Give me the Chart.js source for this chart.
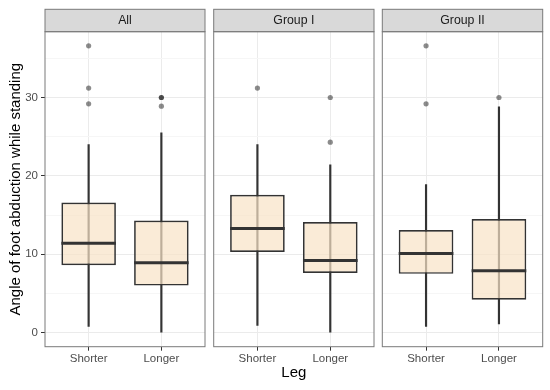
<!DOCTYPE html>
<html>
<head>
<meta charset="utf-8">
<script src="https://cdn.jsdelivr.net/npm/chart.js@4.4.1/dist/chart.umd.min.js"></script>
<style>
  html, body { margin: 0; padding: 0; background: #fff; }
  #wrap { position: relative; width: 550px; height: 390px; }
  .panel { position: absolute; top: 0; height: 390px; }
</style>
</head>
<body>
<div id="wrap">
  <div class="panel" style="left:0;width:210px"><canvas id="c0" width="210" height="390"></canvas></div>
  <div class="panel" style="left:210px;width:170px"><canvas id="c1" width="170" height="390"></canvas></div>
  <div class="panel" style="left:380px;width:170px"><canvas id="c2" width="170" height="390"></canvas></div>
</div>
<script>
// facets and x categories
const panels = ['All', 'Group I', 'Group II'];
const categories = ['Shorter', 'Longer'];

// box stats, one row per panel: [Shorter, Longer]
const whiskerLow = [[0.8, 0.0], [0.9, 0.0], [0.8, 1.1]];
const q1 = [[8.6, 6.0], [10.3, 7.6], [7.5, 4.2]];
const medians = [[11.4, 8.9], [13.3, 9.2], [10.1, 7.9]];
const q3 = [[16.6, 14.3], [17.6, 14.1], [13.1, 14.5]];
const whiskerHigh = [[24.0, 25.5], [24.0, 21.4], [18.9, 28.8]];
const outliers = [
  [[36.6, 31.2, 29.2], [30.0, 30.0, 28.9]],
  [[31.2], [30.0, 24.3]],
  [[36.6, 29.2], [30.0]],
];

// axes
const yTicks = [0, 10, 20, 30];
const yMinor = [5, 15, 25, 35];
const yLimits = [-1.8, 38.4];
const xLimits = [0.4, 2.6];

const INK = '#333333';
const FRAME = '#7a7a7a';
const BOX_FILL = 'rgba(248, 226, 198, 0.7)';
const BOX_WIDTH = 0.75;

Chart.defaults.font.family = '"Liberation Sans", Arial, sans-serif';

// strip on top + panel border, like facet_wrap in theme_bw
const facet = {
  id: 'facet',
  afterDraw(chart, args, opts) {
    const { ctx, chartArea: a } = chart;
    const h = 22.4;
    ctx.save();
    ctx.lineWidth = 1;
    ctx.strokeStyle = FRAME;
    ctx.fillStyle = '#D9D9D9';
    ctx.fillRect(a.left, a.top - h, a.width, h);
    ctx.strokeRect(a.left, a.top - h, a.width, h);
    ctx.strokeRect(a.left, a.top, a.width, a.height);
    ctx.fillStyle = '#1A1A1A';
    ctx.font = '12.3px "Liberation Sans", Arial, sans-serif';
    ctx.textAlign = 'center';
    ctx.textBaseline = 'middle';
    ctx.fillText(opts.title, (a.left + a.right) / 2, a.top - h / 2 + 0.5);
    ctx.restore();
  }
};

// median bars
const medianLines = {
  id: 'medianLines',
  afterDatasetsDraw(chart, args, opts) {
    const { ctx, scales: { x, y } } = chart;
    ctx.save();
    ctx.strokeStyle = INK;
    ctx.lineWidth = 3;
    opts.values.forEach((m, j) => {
      const py = y.getPixelForValue(m);
      ctx.beginPath();
      ctx.moveTo(x.getPixelForValue(j + 1 - BOX_WIDTH / 2), py);
      ctx.lineTo(x.getPixelForValue(j + 1 + BOX_WIDTH / 2), py);
      ctx.stroke();
    });
    ctx.restore();
  }
};

const pads = [
  { left: 0, right: 5 },
  { left: 3.7, right: 6 },
  { left: 2.3, right: 7.3 },
];

function makePanel(i) {
  const first = i === 0;
  const pos = categories.map((c, j) => j + 1);
  return new Chart(document.getElementById('c' + i), {
    type: 'bar',
    data: {
      datasets: [
        {
          type: 'scatter',
          label: 'outliers',
          data: outliers[i].flatMap((vals, j) => vals.map(v => ({ x: j + 1, y: v }))),
          backgroundColor: 'rgba(0,0,0,0.45)',
          borderWidth: 0,
          pointRadius: 2.6,
          order: 0,
        },
        {
          label: 'box',
          data: pos.map((x, j) => ({ x, y: [q1[i][j], q3[i][j]] })),
          backgroundColor: BOX_FILL,
          borderColor: INK,
          borderWidth: 1.7,
          borderSkipped: false,
          barPercentage: BOX_WIDTH,
          categoryPercentage: 1,
          grouped: false,
          order: 1,
        },
        {
          label: 'whisker',
          data: pos.map((x, j) => ({ x, y: [whiskerLow[i][j], whiskerHigh[i][j]] })),
          backgroundColor: INK,
          barThickness: 1.5,
          grouped: false,
          order: 2,
        },
      ]
    },
    options: {
      responsive: false,
      animation: false,
      layout: { padding: { top: 31.7, bottom: 0, left: pads[i].left, right: pads[i].right }, autoPadding: false },
      plugins: {
        legend: { display: false },
        tooltip: { enabled: false },
        facet: { title: panels[i] },
        medianLines: { values: medians[i] },
      },
      scales: {
        x: {
          type: 'linear',
          offset: false,
          min: xLimits[0],
          max: xLimits[1],
          afterBuildTicks: s => { s.ticks = categories.map((c, j) => ({ value: j + 1 })); },
          afterFit: s => { s.height = 43.3; },
          ticks: {
            callback: v => categories[v - 1],
            color: '#4D4D4D',
            font: { size: 11.5 },
            padding: 1.5,
            autoSkip: false,
            maxRotation: 0,
          },
          grid: { offset: false, color: '#EBEBEB', tickColor: INK, tickLength: 4 },
          border: { display: false },
          title: {
            display: i === 1,
            text: 'Leg',
            color: '#000',
            font: { size: 15 },
            padding: { top: 0, bottom: 8 },
          },
        },
        y: {
          min: yLimits[0],
          max: yLimits[1],
          afterBuildTicks: s => { s.ticks = yTicks.concat(yMinor).sort((a, b) => a - b).map(v => ({ value: v })); },
          afterFit: s => { s.width = first ? 45 : 0; },
          ticks: {
            display: first,
            callback: v => (yTicks.includes(v) ? v : ''),
            color: '#4D4D4D',
            font: { size: 11.5 },
            padding: 3,
          },
          grid: {
            color: c => (yTicks.includes(c.tick.value) ? '#EBEBEB' : '#F6F6F6'),
            tickColor: c => (first && yTicks.includes(c.tick.value) ? INK : 'rgba(0,0,0,0)'),
            drawTicks: first,
            tickLength: 4,
          },
          border: { display: false },
          title: {
            display: first,
            text: 'Angle of foot abduction while standing',
            color: '#000',
            font: { size: 15 },
            padding: { top: 7, bottom: 0 },
          },
        },
      },
    },
    plugins: [facet, medianLines],
  });
}

panels.forEach((p, i) => makePanel(i));
</script>
</body>
</html>
